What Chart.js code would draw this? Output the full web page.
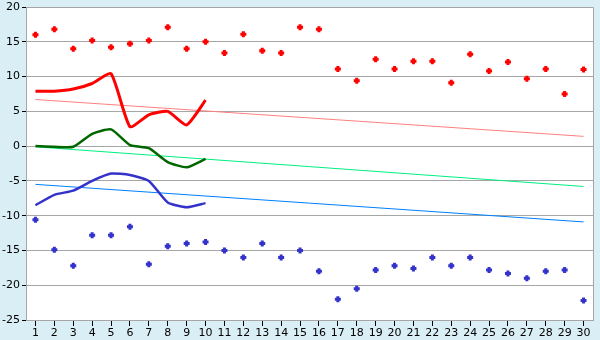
<!DOCTYPE html>
<html>
<head>
<meta charset="utf-8">
<script src="https://cdn.jsdelivr.net/npm/chart.js@4"></script>
<style>
    html, body { margin: 0; padding: 0; background: #daeef5; }
    #chart { display: block; }
</style>
</head>
<body>
<canvas id="chart" width="600" height="340"></canvas>
<script>
// Chart data
const days = ['1','2','3','4','5','6','7','8','9','10','11','12','13','14','15',
              '16','17','18','19','20','21','22','23','24','25','26','27','28','29','30'];

const highPoints = [16, 16.8, 14, 15.2, 14.2, 14.7, 15.2, 17.1, 14, 15,
                    13.4, 16.1, 13.7, 13.4, 17.1, 16.8, 11.1, 9.4, 12.5, 11.1,
                    12.2, 12.2, 9.1, 13.2, 10.8, 12.1, 9.7, 11.1, 7.5, 11];
const lowPoints = [-10.6, -14.9, -17.2, -12.8, -12.8, -11.6, -17, -14.4, -14, -13.8,
                   -15, -16, -14, -16, -15, -18, -22, -20.5, -17.8, -17.2,
                   -17.6, -16, -17.2, -16, -17.8, -18.3, -19, -18, -17.8, -22.2];

const highLine = [7.9, 7.9, 8.2, 9.0, 10.4, 2.8, 4.5, 5.0, 3.05, 6.6];
const meanLine = [0, -0.1, -0.1, 1.76, 2.4, 0.15, -0.3, -2.3, -3.05, -1.85];
const lowLine = [-8.5, -7.0, -6.4, -5.0, -3.95, -4.15, -5.0, -8.1, -8.8, -8.2];

// trend lines: only the two end values, the library joins them
function endsOnly(first, last) {
    const arr = days.map(() => null);
    arr[0] = first;
    arr[days.length - 1] = last;
    return arr;
}
const highTrend = endsOnly(6.7, 1.4);
const meanTrend = endsOnly(-0.1, -5.8);
const lowTrend = endsOnly(-5.5, -10.9);

const yTicks = [20, 15, 10, 5, 0, -5, -10, -15, -20, -25];

const gridGray = '#a6a6a6';

// white plot area with gray frame
const plotFrame = {
    id: 'plotFrame',
    beforeDraw(chart) {
        const { ctx, chartArea: a } = chart;
        ctx.save();
        ctx.fillStyle = '#ffffff';
        ctx.fillRect(a.left, a.top, a.right - a.left, a.bottom - a.top);
        ctx.restore();
    },
    afterDatasetsDraw(chart) {
        const { ctx, chartArea: a } = chart;
        ctx.save();
        ctx.strokeStyle = gridGray;
        ctx.lineWidth = 1;
        ctx.beginPath();
        ctx.moveTo(a.left, a.top + 0.5);
        ctx.lineTo(a.right + 0.5, a.top + 0.5);
        ctx.lineTo(a.right + 0.5, a.bottom);
        ctx.stroke();
        ctx.restore();
    }
};

function trendSet(data, color) {
    return {
        type: 'line',
        data: data,
        borderColor: color,
        borderWidth: 1,
        pointRadius: 0,
        spanGaps: true,
        tension: 0,
        order: 3
    };
}

function curveSet(data, color, width) {
    return {
        type: 'line',
        data: data,
        borderColor: color,
        borderWidth: width,
        pointRadius: 0,
        tension: 0.18,
        order: 2
    };
}

function pointSet(data, color) {
    return {
        type: 'line',
        data: data,
        showLine: false,
        pointStyle: 'cross',
        pointRadius: 3,
        pointBorderWidth: 3,
        pointBorderColor: color,
        pointBackgroundColor: color,
        order: 1
    };
}

new Chart(document.getElementById('chart'), {
    type: 'line',
    data: {
        labels: days,
        datasets: [
            trendSet(highTrend, '#ff8080'),
            trendSet(meanTrend, '#00f080'),
            trendSet(lowTrend, '#0080ff'),
            curveSet(highLine, '#ff0000', 3),
            curveSet(meanLine, '#006600', 2.5),
            curveSet(lowLine, '#3333cc', 2.5),
            pointSet(highPoints, '#ff0000'),
            pointSet(lowPoints, '#3333cc')
        ]
    },
    options: {
        responsive: false,
        animation: false,
        layout: { padding: { top: 0, right: 5, left: 0, bottom: 0 } },
        plugins: {
            legend: { display: false },
            tooltip: { enabled: false }
        },
        scales: {
            x: {
                offset: true,
                grid: {
                    offset: false,
                    drawOnChartArea: false,
                    drawTicks: true,
                    tickLength: 6,
                    color: '#000000'
                },
                border: { color: gridGray },
                ticks: {
                    color: '#000000',
                    padding: 1,
                    maxRotation: 0,
                    autoSkip: false,
                    font: { family: 'DejaVu Sans', size: 11 }
                },
                afterFit(scale) { scale.height = 20; }
            },
            y: {
                min: -25,
                max: 20,
                afterBuildTicks(scale) {
                    scale.ticks = yTicks.map(v => ({ value: v }));
                },
                grid: {
                    color: gridGray,
                    tickLength: 4,
                    tickColor: '#000000'
                },
                border: { color: gridGray },
                ticks: {
                    color: '#000000',
                    padding: 2,
                    font: { family: 'DejaVu Sans', size: 11, lineHeight: 0.9 }
                },
                afterFit(scale) {
                    scale.width = 26;
                    scale.paddingTop = 5;
                }
            }
        }
    },
    plugins: [plotFrame]
});
</script>
</body>
</html>
